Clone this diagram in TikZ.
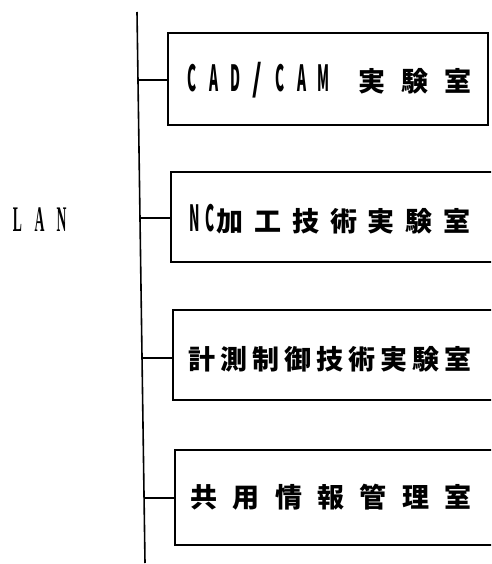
\documentclass[tikz,border=0pt]{standalone}
\usepackage{fontspec}
\usepackage{graphicx}
\setmainfont{Liberation Serif}
\newfontfamily\jp{Noto Sans CJK JP}
\usetikzlibrary{calc}
\newlength\cpitch
\newcommand\cb[1]{\makebox[\cpitch][c]{#1}}
\newcommand\lt[2]{\makebox[#1][c]{\scalebox{0.38}[1]{\fontsize{36}{36}\selectfont\bfseries #2}}}
\newcommand\slashch[1]{\makebox[#1][c]{\scalebox{0.7}[1]{\fontsize{36}{36}\selectfont /}}}
\begin{document}
\begin{tikzpicture}[x=1pt,y=-1pt,
  room/.style={draw,line width=1.1pt,inner sep=0pt},
  txt/.style={inner sep=0pt,font=\jp\bfseries\fontsize{27}{27}\selectfont},
  bus/.style={line width=1.6pt},
  stub/.style={line width=1.1pt}]
\useasboundingbox (0,0) rectangle (491,564);
\clip (0,0) rectangle (491,564);
% bus
\coordinate (bt) at (137,12);
\coordinate (bb) at (145,563);
\draw[bus] (bt) -- (bb);
\node[inner sep=0pt] (lan) at (39.5,220) {\lt{22pt}{L}\lt{22pt}{A}\lt{22pt}{N}};
% boxes
\node[room,minimum width=320pt,minimum height=92pt] (b1) at (328,79) {};
\node[room,minimum width=329pt,minimum height=90pt] (b2) at (335.5,217) {};
\node[room,minimum width=327pt,minimum height=90pt] (b3) at (336.5,355) {};
\node[room,minimum width=325pt,minimum height=95pt] (b4) at (337.5,497.5) {};
% texts
\node[txt] (t1) at (330,80) {\setlength\cpitch{43pt}\lt{22pt}{C}\lt{22pt}{A}\lt{22pt}{D}\slashch{22pt}\lt{22pt}{C}\lt{22pt}{A}\lt{22pt}{M}\hspace{15.5pt}\cb{実}\cb{験}\cb{室}};
\node[txt] (t2) at (331.5,219) {\setlength\cpitch{37.8pt}\lt{15pt}{N}\lt{15pt}{C}\hspace{-6pt}\cb{加}\cb{工}\cb{技}\cb{術}\cb{実}\cb{験}\cb{室}};
\node[txt] (t3) at (330,359) {\setlength\cpitch{32pt}\cb{計}\cb{測}\cb{制}\cb{御}\cb{技}\cb{術}\cb{実}\cb{験}\cb{室}};
\node[txt] (t4) at (331,497) {\setlength\cpitch{42.3pt}\cb{共}\cb{用}\cb{情}\cb{報}\cb{管}\cb{理}\cb{室}};
% stubs
\coordinate (s1) at ($(bt)!{68/551}!(bb)$);
\coordinate (s2) at ($(bt)!{206/551}!(bb)$);
\coordinate (s3) at ($(bt)!{346/551}!(bb)$);
\coordinate (s4) at ($(bt)!{486/551}!(bb)$);
\draw[stub] (s1) -- (s1 -| b1.west);
\draw[stub] (s2) -- (s2 -| b2.west);
\draw[stub] (s3) -- (s3 -| b3.west);
\draw[stub] (s4) -- (s4 -| b4.west);
\end{tikzpicture}
\end{document}
